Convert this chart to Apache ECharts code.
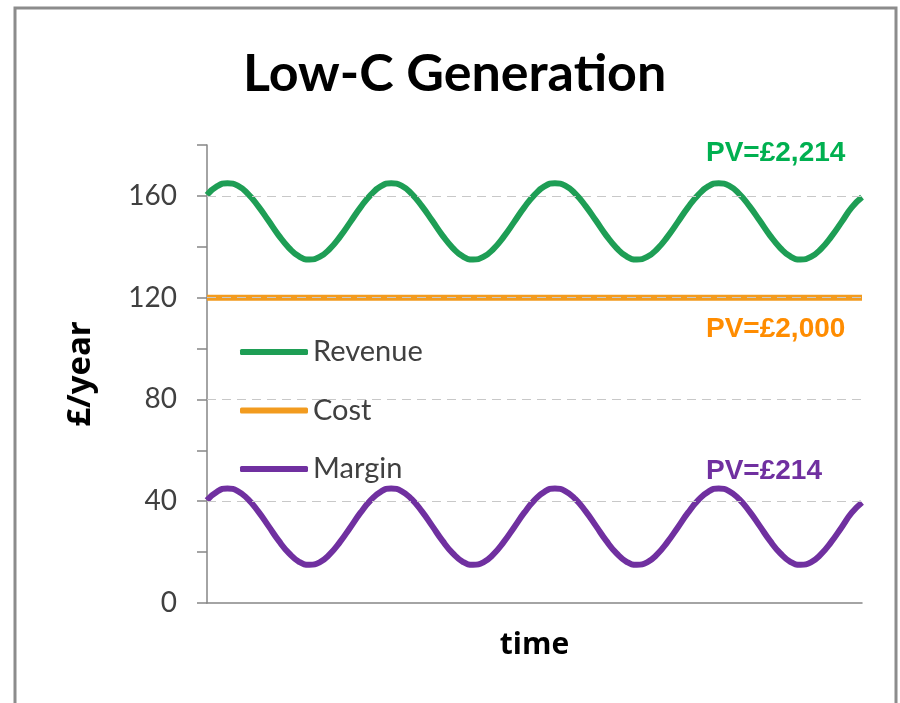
<!DOCTYPE html>
<html><head><meta charset="utf-8">
<script src="https://cdn.jsdelivr.net/npm/echarts@6/dist/echarts.min.js"></script>
<style>html,body{margin:0;padding:0;background:#fff}#c{width:900px;height:703px}</style>
</head><body><div id="c"></div>
<script>
const categories = [];
for (let i = 1; i <= 65; i++) categories.push('t' + i);
const revenue = [160.4,163.8,165,164,160.8,156,150.3,144.5,139.6,136.2,135,136,139.2,144,149.7,155.5,
                 160.4,163.8,165,164,160.8,156,150.3,144.5,139.6,136.2,135,136,139.2,144,149.7,155.5,
                 160.4,163.8,165,164,160.8,156,150.3,144.5,139.6,136.2,135,136,139.2,144,149.7,155.5,
                 160.4,163.8,165,164,160.8,156,150.3,144.5,139.6,136.2,135,136,139.2,144,149.7,155.5,159.5];
const cost = [120,120,120,120,120,120,120,120,120,120,120,120,120,120,120,120,
              120,120,120,120,120,120,120,120,120,120,120,120,120,120,120,120,
              120,120,120,120,120,120,120,120,120,120,120,120,120,120,120,120,
              120,120,120,120,120,120,120,120,120,120,120,120,120,120,120,120,120];
const margin = [40.4,43.8,45,44,40.8,36,30.3,24.5,19.6,16.2,15,16,19.2,24,29.7,35.5,
                40.4,43.8,45,44,40.8,36,30.3,24.5,19.6,16.2,15,16,19.2,24,29.7,35.5,
                40.4,43.8,45,44,40.8,36,30.3,24.5,19.6,16.2,15,16,19.2,24,29.7,35.5,
                40.4,43.8,45,44,40.8,36,30.3,24.5,19.6,16.2,15,16,19.2,24,29.7,35.5,39.5];
const gridValues = [40, 80, 120, 160];
const yLabelValues = [0, 40, 80, 120, 160];
const pvLabels = ["PV=£2,214", "PV=£2,000", "PV=£214"];

const chart = echarts.init(document.getElementById('c'));
const font = 'Lato, "Open Sans", sans-serif';
const bold2 = '"Open Sans", Lato, sans-serif';
chart.setOption({
  animation: false,
  backgroundColor: '#fff',
  title: {
    text: 'Low-C Generation', left: 238, top: 43,
    textStyle: {fontFamily: font, fontWeight: 'bold', fontSize: 52, color: '#000'}
  },
  grid: {left: 207, right: 38, top: 145, bottom: 100},
  legend: {
    data: ['Revenue', 'Cost', 'Margin'],
    orient: 'vertical', left: 240, top: 335, padding: 0,
    icon: 'roundRect', itemWidth: 68, itemHeight: 6, itemGap: 24.5,
    textStyle: {fontFamily: font, fontSize: 29, color: '#404040', lineHeight: 34}
  },
  xAxis: {
    type: 'category', data: categories, boundaryGap: false,
    name: 'time', nameLocation: 'middle', nameGap: 27,
    nameTextStyle: {fontFamily: bold2, fontWeight: 'bold', fontSize: 30, color: '#000'},
    axisLine: {lineStyle: {color: '#868686', width: 1.5}},
    axisTick: {show: false}, axisLabel: {show: false}, splitLine: {show: false}
  },
  yAxis: {
    type: 'value', min: 0, max: 180, interval: 20,
    name: '£/year', nameLocation: 'middle', nameGap: 110, nameRotate: 90,
    nameTextStyle: {fontFamily: bold2, fontWeight: 'bold', fontSize: 33, color: '#000'},
    axisLine: {show: true, lineStyle: {color: '#868686', width: 1.5}},
    axisTick: {show: true, inside: false, length: 10, lineStyle: {color: '#868686', width: 1.5}},
    axisLabel: {
      margin: 30, fontFamily: font, fontSize: 28, color: '#404040',
      formatter: v => yLabelValues.includes(v) ? String(v) : ''
    },
    splitLine: {show: false}
  },
  series: [
    {
      name: 'grid', type: 'line', data: [], silent: true, z: 1,
      markLine: {
        silent: true, symbol: 'none', label: {show: false},
        lineStyle: {color: '#c8c8c8', type: [9, 6], width: 1},
        data: gridValues.map(v => ({yAxis: v}))
      }
    },
    {name: 'Revenue', type: 'line', data: revenue, smooth: true, showSymbol: false, z: 3,
     lineStyle: {color: '#1e9e55', width: 6}, itemStyle: {color: '#1e9e55'}},
    {name: 'Cost', type: 'line', data: cost, showSymbol: false, z: 3,
     lineStyle: {color: '#f29b1f', width: 6}, itemStyle: {color: '#f29b1f'}},
    {name: 'Margin', type: 'line', data: margin, smooth: true, showSymbol: false, z: 3,
     lineStyle: {color: '#7030a0', width: 6}, itemStyle: {color: '#7030a0'}}
  ],
  graphic: [
    {type: 'rect', shape: {x: 15, y: 8, width: 881, height: 720}, style: {fill: 'none', stroke: '#8c8c8c', lineWidth: 3}, z: 0, silent: true},
    {type: 'text', left: 706, top: 139, style: {text: pvLabels[0], fill: '#00b050', font: 'bold 28px "Liberation Sans", Arial, sans-serif'}},
    {type: 'text', left: 706, top: 315, style: {text: pvLabels[1], fill: '#ff8c00', font: 'bold 28px "Liberation Sans", Arial, sans-serif'}},
    {type: 'text', left: 706, top: 457, style: {text: pvLabels[2], fill: '#7030a0', font: 'bold 28px "Liberation Sans", Arial, sans-serif'}}
  ]
});
</script></body></html>
